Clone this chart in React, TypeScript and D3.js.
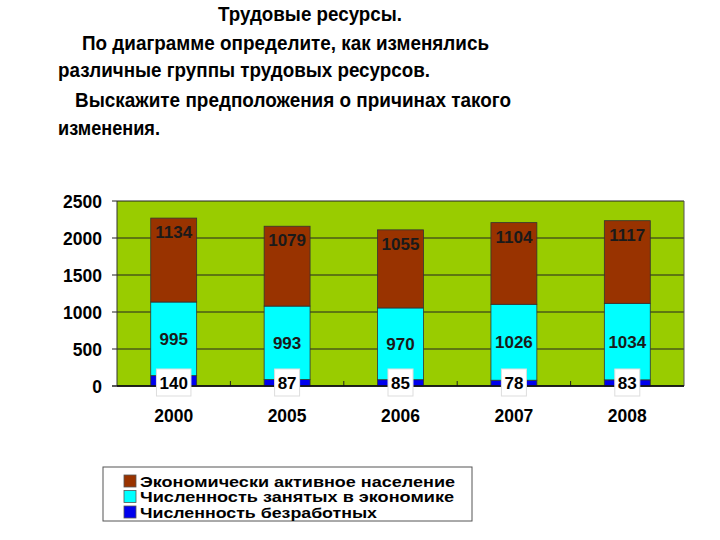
import React from 'react';
import * as d3 from 'd3';

const years = ['2000', '2005', '2006', '2007', '2008'];
const unemployed = [140, 87, 85, 78, 83];
const employed = [995, 993, 970, 1026, 1034];
const active = [1134, 1079, 1055, 1104, 1117];
const yTicks = [0, 500, 1000, 1500, 2000, 2500];
const seriesKeys = ['unemployed', 'employed', 'active'];
const seriesNames = [
  'Экономически активное население',
  'Численность занятых в экономике',
  'Численность безработных',
];
const legendKeys = ['active', 'employed', 'unemployed'];
const colors: Record<string, string> = {
  active: '#993300',
  employed: '#00FFFF',
  unemployed: '#0000EE',
};
const titleLines = [
  { text: 'Трудовые ресурсы.', x: 218, y: 21, w: 184 },
  { text: 'По диаграмме определите, как изменялись', x: 82, y: 50, w: 407 },
  { text: 'различные группы трудовых ресурсов.', x: 58, y: 77, w: 372 },
  { text: 'Выскажите предположения о причинах такого', x: 75, y: 107, w: 436 },
  { text: 'изменения.', x: 58, y: 135, w: 102 },
];
const legendWidths = [315, 314, 237];

const FONT = '"Liberation Sans", Arial, sans-serif';

export default function App() {
  const left = 117, right = 684, top = 201, bottom = 386;
  const x = d3.scaleBand().domain(years).range([left, right]).paddingInner(0.595).paddingOuter(0.2975);
  const y = d3.scaleLinear().domain([0, 2500]).range([bottom, top]);
  const table = years.map((yr, i) => ({ year: yr, unemployed: unemployed[i], employed: employed[i], active: active[i] }));
  const stacked = d3.stack<any>().keys(seriesKeys)(table);
  const step = x.step();

  return (
    <svg width={720} height={540} style={{ position: 'absolute', left: 0, top: 0, background: '#fff' }} fontFamily={FONT}>
      {titleLines.map((l, i) => (
        <text key={i} x={l.x} y={l.y} fontSize={21} fontWeight="bold" fill="#000"
          fontFamily='"Liberation Sans Narrow", "Arial Narrow", "Liberation Sans", Arial, sans-serif'
          textLength={l.w} lengthAdjust="spacingAndGlyphs">{l.text}</text>
      ))}

      {/* plot area */}
      <rect x={left} y={top} width={right - left} height={bottom - top} fill="#99CC00" />
      {yTicks.map(t => (
        <g key={t}>
          <line x1={left - 5} x2={right} y1={y(t)} y2={y(t)} stroke="#222" strokeWidth={t === 0 ? 1.5 : 1} />
          <text x={102} y={y(t) + 7} textAnchor="end" fontSize={17.5} fontWeight="bold" fill="#000">{t}</text>
        </g>
      ))}
      <line x1={left} x2={left} y1={top} y2={bottom} stroke="#333" strokeWidth={1} />
      <line x1={right} x2={right} y1={top} y2={bottom} stroke="#555" strokeWidth={1} />
      {years.slice(1).map((yr, i) => (
        <line key={yr} x1={left + step * (i + 1)} x2={left + step * (i + 1)} y1={bottom} y2={bottom - 5} stroke="#222" />
      ))}

      {stacked.map(s => (
        <g key={s.key}>
          {s.map((d, i) => (
            <rect key={i} x={x(years[i])} width={x.bandwidth()} y={y(d[1])} height={y(d[0]) - y(d[1])}
              fill={colors[s.key]} stroke="#333" strokeWidth={0.8} />
          ))}
        </g>
      ))}
      <line x1={left} x2={right} y1={bottom} y2={bottom} stroke="#111" strokeWidth={1.5} />

      {/* labels */}
      {stacked.map(s => s.map((d, i) => {
        const cx = (x(years[i]) as number) + x.bandwidth() / 2;
        const v = d[1] - d[0];
        if (s.key === 'active') {
          return <text key={s.key + i} x={cx} y={y(d[1]) + 20} textAnchor="middle" fontSize={17} fontWeight="bold" fill="#1a1a1a">{v}</text>;
        }
        if (s.key === 'employed') {
          return <text key={s.key + i} x={cx} y={(y(d[0]) + y(d[1])) / 2 + 6} textAnchor="middle" fontSize={17} fontWeight="bold" fill="#1a1a1a">{v}</text>;
        }
        const w = String(v).length * 9.5 + 6;
        return (
          <g key={s.key + i}>
            <rect x={cx - w / 2} y={369} width={w} height={27} fill="#fff" stroke="#ddd" strokeWidth={1} />
            <text x={cx} y={389} textAnchor="middle" fontSize={17} fontWeight="bold" fill="#000">{v}</text>
          </g>
        );
      }))}

      {years.map(yr => (
        <text key={yr} x={(x(yr) as number) + x.bandwidth() / 2} y={422} textAnchor="middle" fontSize={17.5} fontWeight="bold" fill="#000">{yr}</text>
      ))}

      {/* legend */}
      <rect x={103} y={467} width={369} height={54} fill="#fff" stroke="#555" strokeWidth={1} />
      {legendKeys.map((k, i) => {
        const cy = 481 + i * 15.5;
        return (
          <g key={k}>
            <rect x={124} y={cy - 6} width={12} height={12} fill={colors[k]} stroke="#555" strokeWidth={0.8} />
            <text x={140} y={cy + 5.5} fontSize={15} fontWeight="bold" fill="#000"
              textLength={legendWidths[i]} lengthAdjust="spacingAndGlyphs">{seriesNames[i]}</text>
          </g>
        );
      })}
    </svg>
  );
}
